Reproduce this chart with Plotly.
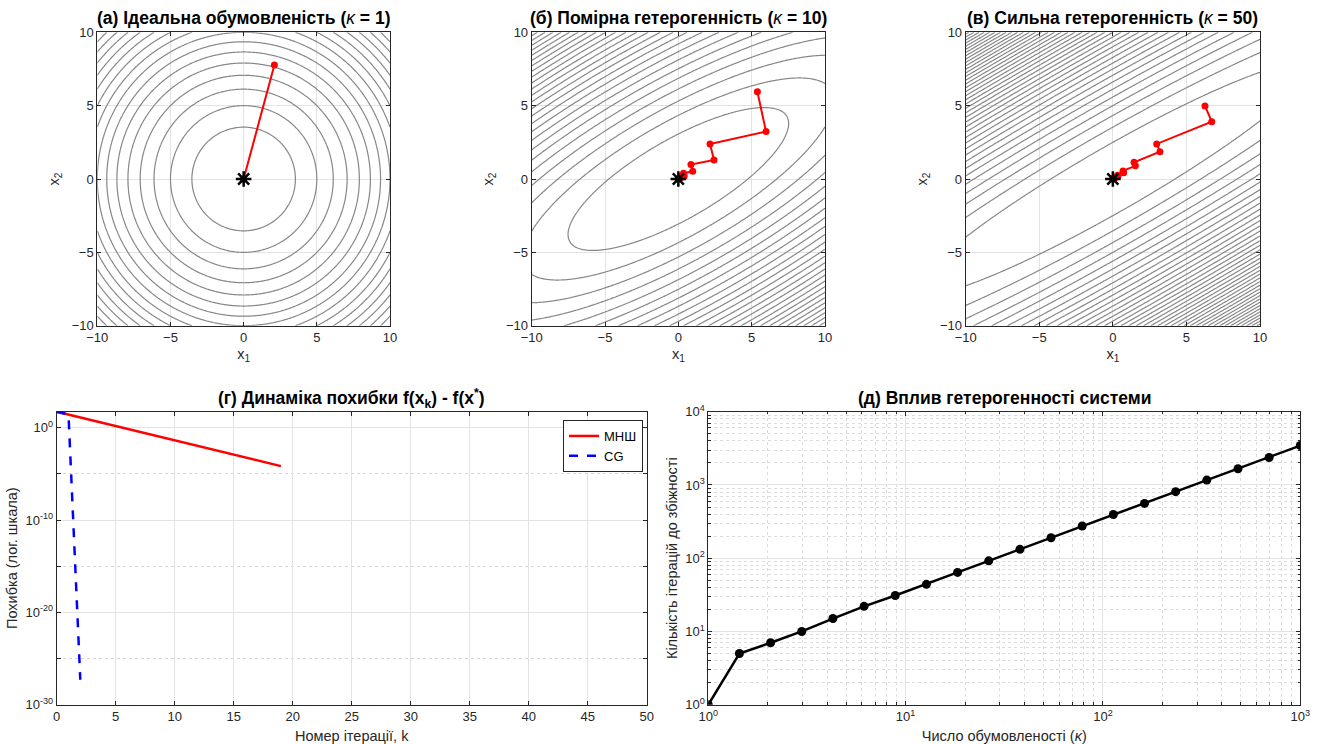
import numpy as np
import plotly.graph_objects as go

W, H = 1318, 744

# ---------------- data ----------------
KAPPAS = [1, 10, 50]
ROT_DEG = 30
LEVEL_STEP = [6.25, 36.5, 118.0]
TITLES_TOP = [
    "<b>(а) Ідеальна обумовленість (</b><i>κ</i><b> = 1)</b>",
    "<b>(б) Помірна гетерогенність (</b><i>κ</i><b> = 10)</b>",
    "<b>(в) Сильна гетерогенність (</b><i>κ</i><b> = 50)</b>",
]
# steepest-descent trajectories
traj_a_x = [2.10, 0.0]
traj_a_y = [7.77, 0.0]
traj_b_x = [5.39, 5.98, 2.16, 2.43, 0.86, 0.98, 0.35, 0.40, 0.14, 0.16, 0.06, 0.06, 0.02, 0.0]
traj_b_y = [5.95, 3.23, 2.39, 1.30, 0.98, 0.53, 0.39, 0.21, 0.16, 0.09, 0.06, 0.03, 0.02, 0.0]
traj_c_x = [6.26, 6.72, 2.98, 3.20, 1.44, 1.53, 0.69, 0.73, 0.33, 0.35, 0.16, 0.17, 0.08, 0.08, 0.0]
traj_c_y = [4.98, 3.91, 2.39, 1.86, 1.14, 0.90, 0.55, 0.43, 0.26, 0.21, 0.13, 0.10, 0.06, 0.05, 0.0]
TRAJ = [(traj_a_x, traj_a_y), (traj_b_x, traj_b_y), (traj_c_x, traj_c_y)]

# error dynamics
iters_sd = list(range(20))
err_sd = [53.7, 26.3, 12.9, 6.31, 3.09, 1.51, 0.741, 0.363, 0.178, 0.0871,
          0.0427, 0.0209, 0.0102, 0.00501, 0.00245, 0.00120, 5.89e-4, 2.88e-4,
          1.41e-4, 6.9e-5]
iters_cg = [0, 1, 2]
err_cg = [53.7, 26.3, 5.0e-28]

# iterations vs condition number
kappa_vals = [1.0, 1.438, 2.069, 2.976, 4.281, 6.158, 8.859, 12.74, 18.33, 26.37,
              37.93, 54.56, 78.48, 112.9, 162.4, 233.6, 336.0, 483.3, 695.2, 1000.0]
iter_vals = [1, 5, 7, 10, 15, 22, 31, 44, 64, 92,
             132, 190, 275, 395, 560, 810, 1165, 1665, 2370, 3450]

FONT = "Liberation Sans, Arial, sans-serif"
AX_COLOR = "#262626"
GRID = "#e3e3e3"
TITLE_SIZE = 17.5
LABEL_SIZE = 14.5
TICK_SIZE = 13

fig = go.Figure()

# pixel boxes in page pixels (left, right, top, bottom)
boxes = {
    1: (97.3, 390.0, 32.3, 325.7),
    2: (531.7, 825.0, 32.3, 325.7),
    3: (965.7, 1260.0, 32.3, 325.7),
    4: (56.7, 646.7, 411.7, 704.7),
    5: (708.3, 1300.3, 411.7, 704.7),
}


def px(x):
    return x / W


def py(y):
    return 1 - y / H


def dom(i):
    l, r, t, b = boxes[i]
    return [px(l), px(r)], [py(b), py(t)]


gx = np.linspace(-10, 10, 241)
gy = np.linspace(-10, 10, 241)
X, Y = np.meshgrid(gx, gy)
th = np.deg2rad(ROT_DEG)
R = np.array([[np.cos(th), -np.sin(th)], [np.sin(th), np.cos(th)]])

for i, kap in enumerate(KAPPAS):
    A = R @ np.diag([1.0, float(kap)]) @ R.T
    Z = 0.5 * (A[0, 0] * X**2 + 2 * A[0, 1] * X * Y + A[1, 1] * Y**2)
    n = i + 1
    xa = "x" if n == 1 else f"x{n}"
    ya = "y" if n == 1 else f"y{n}"
    fig.add_trace(go.Contour(
        x=gx, y=gy, z=Z, xaxis=xa, yaxis=ya,
        contours=dict(start=LEVEL_STEP[i], end=float(Z.max()), size=LEVEL_STEP[i],
                      coloring="lines"),
        colorscale=[[0, "#878787"], [1, "#878787"]], showscale=False,
        line=dict(width=1.2), hoverinfo="skip", showlegend=False))
    tx, ty = TRAJ[i]
    fig.add_trace(go.Scatter(
        x=tx, y=ty, xaxis=xa, yaxis=ya, mode="lines+markers",
        line=dict(color="#ff0000", width=2),
        marker=dict(color="#ff0000", size=7), showlegend=False))
    fig.add_trace(go.Scatter(
        x=[0], y=[0], xaxis=xa, yaxis=ya, mode="markers",
        marker=dict(symbol="asterisk-open", size=13, color="black",
                    line=dict(color="black", width=2.5)),
        showlegend=False))

# bottom-left
fig.add_trace(go.Scatter(x=iters_sd, y=err_sd, xaxis="x4", yaxis="y4", mode="lines",
                         name="МНШ", line=dict(color="#ff0000", width=2.5)))
fig.add_trace(go.Scatter(x=iters_cg, y=err_cg, xaxis="x4", yaxis="y4", mode="lines",
                         name="CG", line=dict(color="#0000ff", width=2.5, dash="dash")))

# bottom-right
fig.add_trace(go.Scatter(x=kappa_vals, y=iter_vals, xaxis="x5", yaxis="y5",
                         mode="lines+markers", line=dict(color="black", width=2.5),
                         marker=dict(color="black", size=9), showlegend=False))

tickfont = dict(family=FONT, size=TICK_SIZE, color=AX_COLOR)
base_ax = dict(showline=True, linecolor=AX_COLOR, linewidth=1, mirror="ticks",
               ticks="inside", ticklen=4, tickcolor=AX_COLOR, showgrid=True,
               gridcolor=GRID, gridwidth=1, zeroline=False, tickfont=tickfont,
               automargin=False)
lab = dict(family=FONT, size=LABEL_SIZE, color=AX_COLOR)

layout = dict(width=W, height=H, margin=dict(l=0, r=0, t=0, b=0, autoexpand=False),
              paper_bgcolor="white", plot_bgcolor="white",
              font=dict(family=FONT, color=AX_COLOR))

for n in (1, 2, 3):
    xd, yd = dom(n)
    xk = "xaxis" if n == 1 else f"xaxis{n}"
    yk = "yaxis" if n == 1 else f"yaxis{n}"
    ya = "y" if n == 1 else f"y{n}"
    xa = "x" if n == 1 else f"x{n}"
    layout[xk] = dict(base_ax, domain=xd, anchor=ya, range=[-10, 10],
                      tickvals=[-10, -5, 0, 5, 10],
                      title=dict(text="x<sub>1</sub>", font=lab, standoff=4))
    layout[yk] = dict(base_ax, domain=yd, anchor=xa, range=[-10, 10],
                      tickvals=[-10, -5, 0, 5, 10],
                      title=dict(text="x<sub>2</sub>", font=lab, standoff=8))

xd, yd = dom(4)
layout["xaxis4"] = dict(base_ax, domain=xd, anchor="y4", range=[0, 50],
                        tickvals=list(range(0, 51, 5)),
                        title=dict(text="Номер ітерації, k", font=lab, standoff=9))
layout["yaxis4"] = dict(base_ax, domain=yd, anchor="x4", type="log", range=[-30, 1.73],
                        tickvals=[1e-30, 1e-20, 1e-10, 1],
                        ticktext=["10<sup>-30</sup>", "10<sup>-20</sup>", "10<sup>-10</sup>",
                                  "10<sup>0</sup>"],
                        minor=dict(tickvals=[1e-25, 1e-15, 1e-5], showgrid=True,
                                   griddash="dot", gridcolor="#d6d6d6", ticks="inside",
                                   ticklen=4, tickcolor=AX_COLOR),
                        title=dict(text="Похибка (лог. шкала)", font=lab, standoff=4))

minor_vals_x = [m * 10**d for d in range(0, 3) for m in range(2, 10)]
minor_vals_y = [m * 10**d for d in range(0, 4) for m in range(2, 10)]
xd, yd = dom(5)
layout["xaxis5"] = dict(base_ax, domain=xd, anchor="y5", type="log", range=[0, 3],
                        tickvals=[1, 10, 100, 1000],
                        ticktext=["10<sup>0</sup>", "10<sup>1</sup>", "10<sup>2</sup>",
                                  "10<sup>3</sup>"],
                        ticklabeloverflow="allow",
                        minor=dict(tickvals=minor_vals_x, showgrid=True, griddash="dot",
                                   gridcolor="#dcdcdc", ticks="inside", ticklen=2.5,
                                   tickcolor=AX_COLOR),
                        title=dict(text="Число обумовленості (<i>κ</i>)", font=lab,
                                   standoff=10))
layout["yaxis5"] = dict(base_ax, domain=yd, anchor="x5", type="log", range=[0, 4],
                        tickvals=[1, 10, 100, 1000, 10000],
                        ticktext=["10<sup>0</sup>", "10<sup>1</sup>", "10<sup>2</sup>",
                                  "10<sup>3</sup>", "10<sup>4</sup>"],
                        minor=dict(tickvals=minor_vals_y, showgrid=True, griddash="dot",
                                   gridcolor="#dcdcdc", ticks="inside", ticklen=2.5,
                                   tickcolor=AX_COLOR),
                        title=dict(text="Кількість ітерацій до збіжності", font=lab,
                                   standoff=4))

layout["legend"] = dict(x=px(643), xanchor="right", y=py(420), yanchor="top",
                        bgcolor="white", bordercolor=AX_COLOR, borderwidth=1,
                        font=dict(family=FONT, size=13, color="black"),
                        tracegroupgap=0)

annotations = []
tfont = dict(family=FONT, size=TITLE_SIZE, color="black")
for n, t in zip((1, 2, 3), TITLES_TOP):
    l, r, tp, b = boxes[n]
    annotations.append(dict(text=t, x=px((l + r) / 2), y=py(18), xref="paper",
                            yref="paper", showarrow=False, xanchor="center",
                            yanchor="middle", font=tfont))
l, r, tp, b = boxes[4]
annotations.append(dict(text="<b>(г) Динаміка похибки f(x<sub>k</sub>) - f(x<sup>*</sup>)</b>",
                        x=px((l + r) / 2), y=py(398), xref="paper", yref="paper",
                        showarrow=False, xanchor="center", yanchor="middle", font=tfont))
l, r, tp, b = boxes[5]
annotations.append(dict(text="<b>(д) Вплив гетерогенності системи</b>",
                        x=px((l + r) / 2), y=py(398), xref="paper", yref="paper",
                        showarrow=False, xanchor="center", yanchor="middle", font=tfont))
layout["annotations"] = annotations

fig.update_layout(**layout)
# the page's default 8 px body margin would shift the fixed-size figure; remove it
fig.write_html(
    "out.html",
    config={"displayModeBar": False},
    post_script="document.body.style.margin='0';document.body.style.overflow='hidden';",
)
